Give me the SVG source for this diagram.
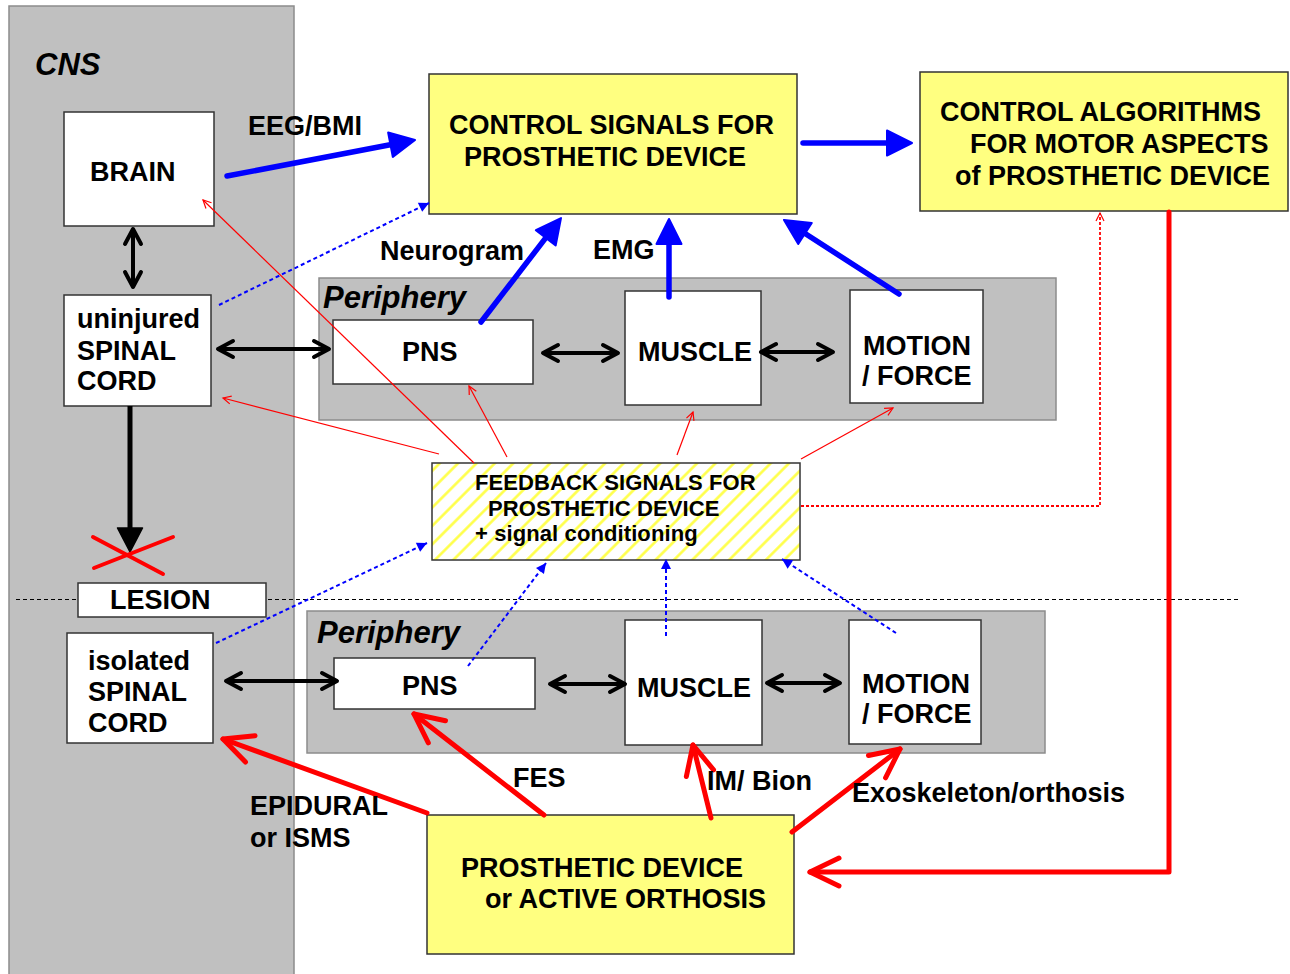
<svg xmlns="http://www.w3.org/2000/svg" width="1290" height="974" viewBox="0 0 1290 974">
<style>
.t{font-family:"Liberation Sans",Arial,Helvetica,sans-serif;font-weight:bold;font-size:27px;fill:#000}
.tf{font-size:22px;letter-spacing:0.1px}
.ti{font-style:italic;font-size:31px}
.panel{fill:#c0c0c0;stroke:#8c8c8c;stroke-width:1.5}
.box{fill:#fff;stroke:#333;stroke-width:1.5}
.ybox{fill:#ffff80;stroke:#333;stroke-width:1.5}
.bk{stroke:#000;stroke-width:4;fill:none}
.bl{stroke:#0000ff;stroke-width:5.5;fill:none;stroke-linecap:round}
.bld{stroke:#0000ff;stroke-width:2;fill:none;stroke-dasharray:4 3}
.rd{stroke:#ff0000;stroke-width:5;fill:none;stroke-linecap:round;stroke-linejoin:round}
.rt{stroke:#ff0000;stroke-width:1.2;fill:none}
.rdd{stroke:#ff0000;stroke-width:1.8;fill:none;stroke-dasharray:3 2}
</style>
<defs>
<marker id="mBk" markerUnits="userSpaceOnUse" viewBox="-19 -11 22 22" markerWidth="22" markerHeight="22" refX="0" refY="0" orient="auto-start-reverse">
<path d="M-15,-8 L0,0 L-15,8" fill="none" stroke="#000" stroke-width="4" stroke-linecap="round" stroke-linejoin="round"/>
</marker>
<marker id="mBkF" markerUnits="userSpaceOnUse" viewBox="-27 -14 30 28" markerWidth="30" markerHeight="28" refX="-18" refY="0" orient="auto">
<path d="M-24,-12.5 L0,0 L-24,12.5 Z" fill="#000" stroke="#000" stroke-width="1.5" stroke-linejoin="round"/>
</marker>
<marker id="mBl" markerUnits="userSpaceOnUse" viewBox="-28 -15 31 30" markerWidth="31" markerHeight="30" refX="-20" refY="0" orient="auto">
<path d="M-25,-12.5 L0,0 L-25,12.5 Z" fill="#0000ff" stroke="#0000ff" stroke-width="2" stroke-linejoin="round"/>
</marker>
<marker id="mBlS" markerUnits="userSpaceOnUse" viewBox="-12 -7 14 14" markerWidth="14" markerHeight="14" refX="0" refY="0" orient="auto">
<path d="M-10,-5 L0,0 L-10,5 Z" fill="#0000ff"/>
</marker>
<marker id="mRd" markerUnits="userSpaceOnUse" viewBox="-33 -18 37 36" markerWidth="37" markerHeight="36" refX="0" refY="0" orient="auto">
<path d="M-29,-14 L0,0 L-29,14" fill="none" stroke="#ff0000" stroke-width="5" stroke-linecap="round" stroke-linejoin="round"/>
</marker>
<marker id="mRt" markerUnits="userSpaceOnUse" viewBox="-10 -6 12 12" markerWidth="12" markerHeight="12" refX="0" refY="0" orient="auto">
<path d="M-8,-4 L0,0 L-8,4" fill="none" stroke="#ff0000" stroke-width="1.2"/>
</marker>
<pattern id="hatch" patternUnits="userSpaceOnUse" width="13" height="13" patternTransform="rotate(45)">
<rect width="13" height="13" fill="#fff"/>
<line x1="1.5" y1="0" x2="1.5" y2="13" stroke="#ffff40" stroke-width="2.5"/>
</pattern>
</defs>

<g id="panels">
<rect id="cns" class="panel" x="9" y="6" width="285" height="975"/>
<rect id="periphery-upper" class="panel" x="319" y="278" width="737" height="142"/>
<rect id="periphery-lower" class="panel" x="307" y="611" width="738" height="142"/>
<line id="lesion-line" x1="16" y1="599.5" x2="1238" y2="599.5" stroke="#000" stroke-width="1" stroke-dasharray="4 3"/>
<text class="t ti" x="35" y="75">CNS</text>
<text class="t ti" x="323" y="308">Periphery</text>
<text class="t ti" x="317" y="643">Periphery</text>
</g>

<g id="brain"><rect class="box" x="64" y="112" width="150" height="114"/><text class="t" x="90" y="181">BRAIN</text></g>
<g id="control-signals"><rect class="ybox" x="429" y="74" width="368" height="140"/><text class="t" x="449" y="134">CONTROL SIGNALS FOR</text><text class="t" x="464" y="166">PROSTHETIC DEVICE</text></g>
<g id="control-algorithms"><rect class="ybox" x="920" y="72" width="368" height="139"/><text class="t" x="940" y="121">CONTROL ALGORITHMS</text><text class="t" x="970" y="153">FOR MOTOR ASPECTS</text><text class="t" x="955" y="185">of PROSTHETIC DEVICE</text></g>
<g id="uninjured-spinal-cord"><rect class="box" x="64" y="295" width="147" height="111"/><text class="t" x="77" y="328">uninjured</text><text class="t" x="77" y="360">SPINAL</text><text class="t" x="77" y="390">CORD</text></g>
<g id="pns-upper"><rect class="box" x="333" y="320" width="200" height="64"/><text class="t" x="402" y="361">PNS</text></g>
<g id="muscle-upper"><rect class="box" x="625" y="291" width="136" height="114"/><text class="t" x="638" y="361">MUSCLE</text></g>
<g id="motion-upper"><rect class="box" x="850" y="290" width="133" height="113"/><text class="t" x="863" y="355">MOTION</text><text class="t" x="862" y="385">/ FORCE</text></g>
<g id="feedback"><rect x="432" y="463" width="368" height="97" fill="url(#hatch)" stroke="#333" stroke-width="1.5"/><text class="t tf" x="475" y="490">FEEDBACK SIGNALS FOR</text><text class="t tf" x="488" y="516">PROSTHETIC DEVICE</text><text class="t tf" x="475" y="541">+ signal conditioning</text></g>
<g id="lesion"><rect class="box" x="78" y="583" width="188" height="34"/><text class="t" x="110" y="609">LESION</text></g>
<g id="isolated-spinal-cord"><rect class="box" x="67" y="633" width="146" height="110"/><text class="t" x="88" y="670">isolated</text><text class="t" x="88" y="701">SPINAL</text><text class="t" x="88" y="732">CORD</text></g>
<g id="pns-lower"><rect class="box" x="334" y="658" width="201" height="51"/><text class="t" x="402" y="695">PNS</text></g>
<g id="muscle-lower"><rect class="box" x="625" y="620" width="137" height="125"/><text class="t" x="637" y="697">MUSCLE</text></g>
<g id="motion-lower"><rect class="box" x="849" y="620" width="132" height="124"/><text class="t" x="862" y="693">MOTION</text><text class="t" x="862" y="723">/ FORCE</text></g>
<g id="prosthetic-device"><rect class="ybox" x="427" y="815" width="367" height="139"/><text class="t" x="461" y="877">PROSTHETIC DEVICE</text><text class="t" x="485" y="908">or ACTIVE ORTHOSIS</text></g>

<g id="connectors">
<line class="bk" x1="133" y1="229" x2="133" y2="287" marker-start="url(#mBk)" marker-end="url(#mBk)"/>
<line class="bk" x1="218" y1="349" x2="329" y2="349" marker-start="url(#mBk)" marker-end="url(#mBk)"/>
<line class="bk" x1="543" y1="353" x2="618" y2="353" marker-start="url(#mBk)" marker-end="url(#mBk)"/>
<line class="bk" x1="761" y1="352" x2="833" y2="352" marker-start="url(#mBk)" marker-end="url(#mBk)"/>
<line class="bk" x1="226" y1="681" x2="337" y2="681" marker-start="url(#mBk)" marker-end="url(#mBk)"/>
<line class="bk" x1="550" y1="684" x2="625" y2="684" marker-start="url(#mBk)" marker-end="url(#mBk)"/>
<line class="bk" x1="767" y1="683" x2="840" y2="683" marker-start="url(#mBk)" marker-end="url(#mBk)"/>
<line x1="130" y1="406" x2="130" y2="534" stroke="#000" stroke-width="5" marker-end="url(#mBkF)"/>
<line x1="93" y1="537" x2="163" y2="574" stroke="#ff0000" stroke-width="4" stroke-linecap="round"/>
<line x1="94" y1="568" x2="173" y2="537" stroke="#ff0000" stroke-width="4" stroke-linecap="round"/>
<line class="bl" x1="227" y1="176" x2="395.4" y2="143.8" marker-end="url(#mBl)"/>
<line class="bl" x1="803" y1="143" x2="892" y2="143" marker-end="url(#mBl)"/>
<line class="bl" x1="481" y1="322" x2="548.8" y2="233.9" marker-end="url(#mBl)"/>
<line class="bl" x1="669" y1="297" x2="669" y2="239" marker-end="url(#mBl)"/>
<line class="bl" x1="899" y1="294" x2="800.8" y2="230.8" marker-end="url(#mBl)"/>
<line class="bld" x1="219" y1="305" x2="429" y2="203" marker-end="url(#mBlS)"/>
<line class="bld" x1="216" y1="643" x2="427" y2="543" marker-end="url(#mBlS)"/>
<line class="bld" x1="468" y1="666" x2="546" y2="563" marker-end="url(#mBlS)"/>
<line class="bld" x1="666" y1="636" x2="666" y2="559" marker-end="url(#mBlS)"/>
<line class="bld" x1="896" y1="633" x2="782" y2="559" marker-end="url(#mBlS)"/>
<line class="rt" x1="474" y1="463" x2="203" y2="200" marker-end="url(#mRt)"/>
<line class="rt" x1="439" y1="454" x2="223" y2="398" marker-end="url(#mRt)"/>
<line class="rt" x1="507" y1="457" x2="469" y2="386" marker-end="url(#mRt)"/>
<line class="rt" x1="677" y1="455" x2="693" y2="412" marker-end="url(#mRt)"/>
<line class="rt" x1="801" y1="459" x2="893" y2="408" marker-end="url(#mRt)"/>
<polyline class="rdd" points="801,506 1100,506 1100,213" marker-end="url(#mRt)"/>
<polyline class="rd" points="1169,212 1169,872 810,872" marker-end="url(#mRd)"/>
<line class="rd" x1="427" y1="813" x2="223" y2="739" marker-end="url(#mRd)"/>
<line class="rd" x1="544" y1="815" x2="414" y2="714" marker-end="url(#mRd)"/>
<line class="rd" x1="711" y1="818" x2="693" y2="745" marker-end="url(#mRd)"/>
<line class="rd" x1="792" y1="832" x2="900" y2="749" marker-end="url(#mRd)"/>
</g>

<g id="labels">
<text class="t" x="248" y="135">EEG/BMI</text>
<text class="t" x="380" y="260">Neurogram</text>
<text class="t" x="593" y="259">EMG</text>
<text class="t" x="513" y="787">FES</text>
<text class="t" x="707" y="790">IM/ Bion</text>
<text class="t" x="250" y="815">EPIDURAL</text>
<text class="t" x="250" y="847">or ISMS</text>
<text class="t" x="852" y="802">Exoskeleton/orthosis</text>
</g>
</svg>
